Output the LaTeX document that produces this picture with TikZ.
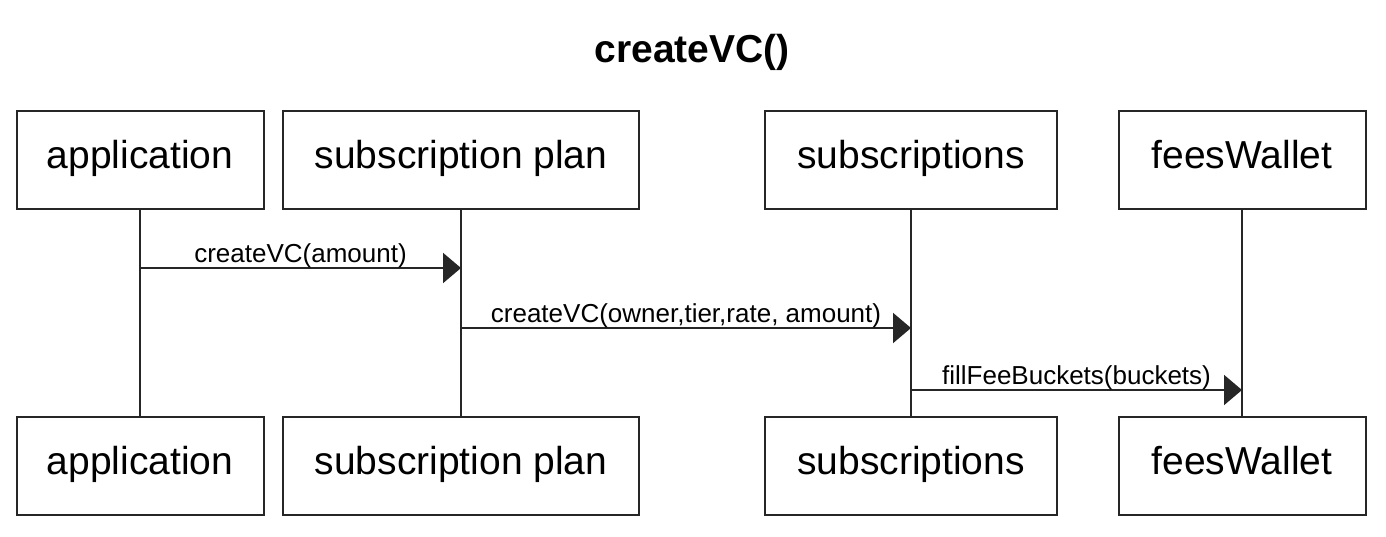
\documentclass[tikz,border=0pt]{standalone}
\usepackage{fontspec}
\setmainfont{Liberation Sans}
\usetikzlibrary{arrows.meta}
\tikzset{
  actor/.style={draw=black!85, line width=2pt, minimum height=98pt, inner sep=0pt, text height=28pt, text depth=12pt, font=\fontsize{39}{44}\selectfont},
  life/.style={draw=black!85, line width=2pt},
  msg/.style={draw=black!85, line width=2pt, -{Triangle[length=18pt,width=30pt]}},
  msglabel/.style={anchor=base, inner sep=0pt, font=\fontsize{26}{30}\selectfont},
  titlestyle/.style={anchor=base, inner sep=0pt, font=\bfseries\fontsize{39}{44}\selectfont}
}
\begin{document}
\begin{tikzpicture}[x=1pt,y=-1pt]
\useasboundingbox (0,0) rectangle (1386,536);
\node[titlestyle] (title) at (692,62) {createVC()};
% top actors
\node[actor, minimum width=247pt] (appT) at (140,160) {application};
\node[actor, minimum width=356pt] (planT) at (461,160) {subscription plan};
\node[actor, minimum width=292pt] (subsT) at (911,160) {subscriptions};
\node[actor, minimum width=247pt] (feesT) at (1242,160) {feesWallet};
% bottom actors
\node[actor, minimum width=247pt] (appB) at (140,466) {application};
\node[actor, minimum width=356pt] (planB) at (461,466) {subscription plan};
\node[actor, minimum width=292pt] (subsB) at (911,466) {subscriptions};
\node[actor, minimum width=247pt] (feesB) at (1242,466) {feesWallet};
% lifelines
\draw[life] (appT.south) -- (appB.north);
\draw[life] (planT.south) -- (planB.north);
\draw[life] (subsT.south) -- (subsB.north);
\draw[life] (feesT.south) -- (feesB.north);
% message anchor points
\coordinate (m1) at (appT.south |- 0,268);
\coordinate (m2) at (planT.south |- 0,328);
\coordinate (m3) at (subsT.south |- 0,390);
\draw[msg] (m1) -- (m1 -| planT.south) node[midway, msglabel, yshift=6pt] (l1) {createVC(amount)};
\draw[msg] (m2) -- (m2 -| subsT.south) node[midway, msglabel, yshift=6pt] (l2) {createVC(owner,tier,rate, amount)};
\draw[msg] (m3) -- (m3 -| feesT.south) node[midway, msglabel, yshift=6pt] (l3) {fillFeeBuckets(buckets)};
\end{tikzpicture}
\end{document}
